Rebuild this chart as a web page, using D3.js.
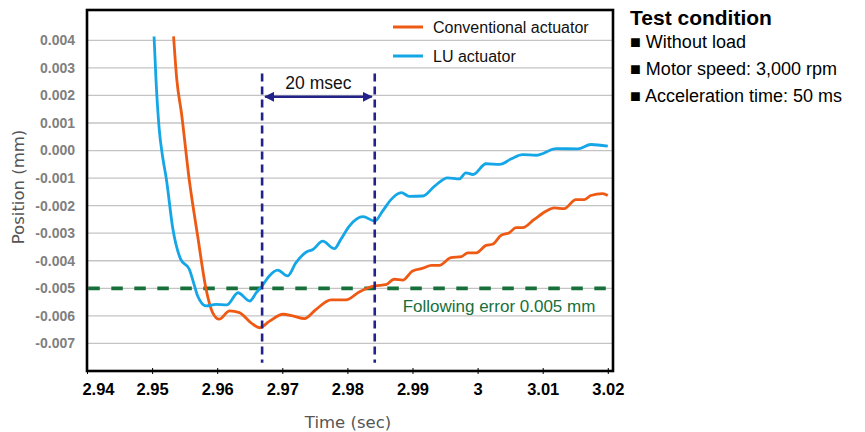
<!DOCTYPE html>
<html>
<head>
<meta charset="utf-8">
<script src="https://cdn.jsdelivr.net/npm/d3@7"></script>
<style>
  html, body { margin: 0; padding: 0; background: #fff; }
  svg { display: block; }
</style>
</head>
<body>
<svg id="chart" width="865" height="432"></svg>
<script>
// ---------- data ----------
const xTicks = [2.94, 2.95, 2.96, 2.97, 2.98, 2.99, 3.00, 3.01, 3.02];
const xTickLabels = ["2.94", "2.95", "2.96", "2.97", "2.98", "2.99", "3", "3.01", "3.02"];
const yTicks = [0.004, 0.003, 0.002, 0.001, 0.000, -0.001, -0.002, -0.003, -0.004, -0.005, -0.006, -0.007];
const yTickLabels = ["0.004", "0.003", "0.002", "0.001", "0.000", "-0.001", "-0.002", "-0.003", "-0.004", "-0.005", "-0.006", "-0.007"];

const seriesNames = ["Conventional actuator", "LU actuator"];

const convTime = [2.9533, 2.9538, 2.9545, 2.9557, 2.9570, 2.9583, 2.9593, 2.9603, 2.9619, 2.9634, 2.9652,
  2.9665, 2.9680, 2.9701, 2.9716, 2.9734, 2.9752, 2.9775, 2.9798, 2.9818, 2.9842,
  2.9859, 2.9872, 2.9885, 2.9900, 2.9916, 2.9929, 2.9941, 2.9959, 2.9975, 2.9985,
  2.9998, 3.0013, 3.0023, 3.0036, 3.0049, 3.0059, 3.0069, 3.0087, 3.0105, 3.0118,
  3.0133, 3.0151, 3.0164, 3.0174, 3.0192, 3.0200];
const convPos = [0.00414, 0.00256, 0.00138, -0.00105, -0.00310, -0.00504, -0.00588, -0.00612, -0.00582, -0.00588, -0.00625,
  -0.00643, -0.00620, -0.00594, -0.00600, -0.00610, -0.00576, -0.00542, -0.00542, -0.00513, -0.00491,
  -0.00487, -0.00467, -0.00470, -0.00437, -0.00427, -0.00417, -0.00417, -0.00389, -0.00385, -0.00371,
  -0.00371, -0.00344, -0.00340, -0.00308, -0.00298, -0.00280, -0.00280, -0.00250, -0.00220, -0.00208,
  -0.00211, -0.00178, -0.00178, -0.00163, -0.00156, -0.00163];

const luTime = [2.9503, 2.9506, 2.9511, 2.9516, 2.9522, 2.9532, 2.9544, 2.9557, 2.9565, 2.9570, 2.9583, 2.9598,
  2.9615, 2.9632, 2.9650, 2.9660, 2.9669, 2.9680, 2.9693, 2.9708, 2.9721, 2.9737,
  2.9747, 2.9762, 2.9780, 2.9790, 2.9803, 2.9824, 2.9842, 2.9854, 2.9867, 2.9883,
  2.9895, 2.9916, 2.9934, 2.9954, 2.9972, 2.9982, 2.9993, 3.0013, 3.0034, 3.0052,
  3.0069, 3.0090, 3.0121, 3.0154, 3.0174, 3.0200];
const luPos = [0.00414, 0.00256, 0.00076, -0.00020, -0.00105, -0.00286, -0.00395, -0.00430, -0.00490, -0.00528, -0.00564, -0.00558,
  -0.00560, -0.00516, -0.00546, -0.00516, -0.00491, -0.00455, -0.00434, -0.00455, -0.00407, -0.00368,
  -0.00359, -0.00329, -0.00356, -0.00322, -0.00274, -0.00240, -0.00256, -0.00220, -0.00178, -0.00153,
  -0.00166, -0.00165, -0.00129, -0.00099, -0.00103, -0.00081, -0.00087, -0.00048, -0.00050, -0.00030,
  -0.00015, -0.00017, 0.00007, 0.00006, 0.00022, 0.00016];

const markerTimes = [2.9669, 2.9842];      // 20 msec interval
const markerSpan = [0.0028, -0.0077];
const arrowLevel = 0.00195;
const intervalLabel = "20 msec";
const errorLevel = -0.005;
const errorLabel = "Following error 0.005 mm";

const conditionTitle = "Test condition";
const conditionItems = ["Without load", "Motor speed: 3,000 rpm", "Acceleration time: 50 ms"];

// ---------- layout ----------
const svg = d3.select("#chart");
const plot = { left: 87, right: 613, top: 10, bottom: 371 };

const x = d3.scaleLinear().domain([2.94, 3.0208]).range([plot.left, plot.right]);
const y = d3.scaleLinear().domain([-0.008, 0.0051]).range([plot.bottom, plot.top]);

const colors = { conv: "#ee5a14", lu: "#14a6e6", green: "#17703a", navy: "#222288" };

// gridlines
svg.append("g").selectAll("line").data(yTicks).join("line")
  .attr("x1", plot.left).attr("x2", plot.right)
  .attr("y1", d => y(d)).attr("y2", d => y(d))
  .attr("stroke", "#c4c4c4").attr("stroke-width", 1.3);

// y labels
svg.append("g").selectAll("text").data(yTicks).join("text")
  .attr("x", 75).attr("y", d => y(d)).attr("dy", "0.35em")
  .attr("text-anchor", "end")
  .attr("font-family", "Liberation Sans, Arial, sans-serif")
  .attr("font-weight", "bold").attr("font-size", 14).attr("fill", "#7f7f7f")
  .text((d, i) => yTickLabels[i]);

// x axis ticks & labels
const xAxis = d3.axisBottom(x).tickValues(xTicks).tickSize(0)
  .tickFormat((d, i) => xTickLabels[i]);
const gx = svg.append("g").attr("transform", `translate(0,${plot.bottom})`).call(xAxis);
gx.select(".domain").remove();
gx.selectAll(".tick").append("line")
  .attr("y1", -3).attr("y2", 3).attr("stroke", "#000").attr("stroke-width", 1);
gx.selectAll(".tick text")
  .attr("y", 24).attr("dy", 0)
  .attr("font-family", "Liberation Sans, Arial, sans-serif")
  .attr("font-weight", "bold").attr("font-size", 16.5).attr("fill", "#000")
  .attr("dx", (d, i) => i === 0 ? 11 : 0);

// green following error line
svg.append("line")
  .attr("x1", x(2.9402)).attr("x2", x(3.0198))
  .attr("y1", y(errorLevel)).attr("y2", y(errorLevel))
  .attr("stroke", colors.green).attr("stroke-width", 3.6)
  .attr("stroke-dasharray", "11.5,11.5");

// series
const line = d3.line().x(d => x(d[0])).y(d => y(d[1])).curve(d3.curveMonotoneX);
const convData = convTime.map((t, i) => [t, convPos[i]]);
const luData = luTime.map((t, i) => [t, luPos[i]]);

svg.append("path").datum(convData).attr("d", line)
  .attr("fill", "none").attr("stroke", colors.conv).attr("stroke-width", 2.8)
  .attr("stroke-linejoin", "round");
svg.append("path").datum(luData).attr("d", line)
  .attr("fill", "none").attr("stroke", colors.lu).attr("stroke-width", 2.8)
  .attr("stroke-linejoin", "round");

// vertical markers
svg.append("g").selectAll("line").data(markerTimes).join("line")
  .attr("x1", d => x(d)).attr("x2", d => x(d))
  .attr("y1", y(markerSpan[0])).attr("y2", y(markerSpan[1]))
  .attr("stroke", colors.navy).attr("stroke-width", 2.6)
  .attr("stroke-dasharray", "8,5");

// arrow
const defs = svg.append("defs");
defs.append("marker").attr("id", "ahEnd").attr("viewBox", "0 0 10 10")
  .attr("refX", 9).attr("refY", 5).attr("markerWidth", 10).attr("markerHeight", 10)
  .attr("markerUnits", "userSpaceOnUse").attr("orient", "auto")
  .append("path").attr("d", "M0,0 L10,5 L0,10 Z").attr("fill", colors.navy);
defs.append("marker").attr("id", "ahStart").attr("viewBox", "0 0 10 10")
  .attr("refX", 1).attr("refY", 5).attr("markerWidth", 10).attr("markerHeight", 10)
  .attr("markerUnits", "userSpaceOnUse").attr("orient", "auto")
  .append("path").attr("d", "M10,0 L0,5 L10,10 Z").attr("fill", colors.navy);

svg.append("line")
  .attr("x1", x(markerTimes[0]) + 3).attr("x2", x(markerTimes[1]) - 3)
  .attr("y1", y(arrowLevel)).attr("y2", y(arrowLevel))
  .attr("stroke", colors.navy).attr("stroke-width", 2.4)
  .attr("marker-start", "url(#ahStart)").attr("marker-end", "url(#ahEnd)");

svg.append("text")
  .attr("x", (x(markerTimes[0]) + x(markerTimes[1])) / 2)
  .attr("y", y(arrowLevel) - 8)
  .attr("text-anchor", "middle")
  .attr("font-family", "Liberation Sans, Arial, sans-serif")
  .attr("font-size", 17.5).attr("fill", "#111")
  .text(intervalLabel);

// following error label
svg.append("text")
  .attr("x", 499).attr("y", y(errorLevel) + 24)
  .attr("text-anchor", "middle")
  .attr("font-family", "Liberation Sans, Arial, sans-serif")
  .attr("font-size", 17).attr("fill", colors.green)
  .text(errorLabel);

// frame
svg.append("rect")
  .attr("x", plot.left).attr("y", plot.top)
  .attr("width", plot.right - plot.left).attr("height", plot.bottom - plot.top)
  .attr("fill", "none").attr("stroke", "#000").attr("stroke-width", 2.6);

// legend
const legendColors = [colors.conv, colors.lu];
const lg = svg.append("g").selectAll("g").data(seriesNames).join("g")
  .attr("transform", (d, i) => `translate(393,${27 + i * 29})`);
lg.append("line").attr("x1", 0).attr("x2", 30).attr("y1", 0).attr("y2", 0)
  .attr("stroke", (d, i) => legendColors[i]).attr("stroke-width", 3);
lg.append("text").attr("x", 40).attr("y", 1).attr("dy", "0.3em")
  .attr("font-family", "Liberation Sans, Arial, sans-serif")
  .attr("font-size", 16).attr("fill", "#111")
  .text(d => d);

// axis titles
svg.append("text")
  .attr("x", 348).attr("y", 428)
  .attr("text-anchor", "middle")
  .attr("font-family", "DejaVu Sans, Verdana, sans-serif")
  .attr("font-size", 16.5).attr("fill", "#555")
  .text("Time (sec)");
svg.append("text")
  .attr("transform", "translate(24,187) rotate(-90)")
  .attr("text-anchor", "middle")
  .attr("font-family", "DejaVu Sans, Verdana, sans-serif")
  .attr("font-size", 16.5).attr("fill", "#555")
  .text("Position (mm)");

// test condition
svg.append("text")
  .attr("x", 630).attr("y", 25)
  .attr("font-family", "Liberation Sans, Arial, sans-serif")
  .attr("font-weight", "bold").attr("font-size", 21).attr("fill", "#000")
  .text(conditionTitle);
svg.append("g").selectAll("text").data(conditionItems).join("text")
  .attr("x", 630).attr("y", (d, i) => 48 + i * 27)
  .attr("font-family", "Liberation Sans, Arial, sans-serif")
  .attr("font-size", 18).attr("fill", "#000")
  .text(d => "\u25A0 " + d);
</script>
</body>
</html>
